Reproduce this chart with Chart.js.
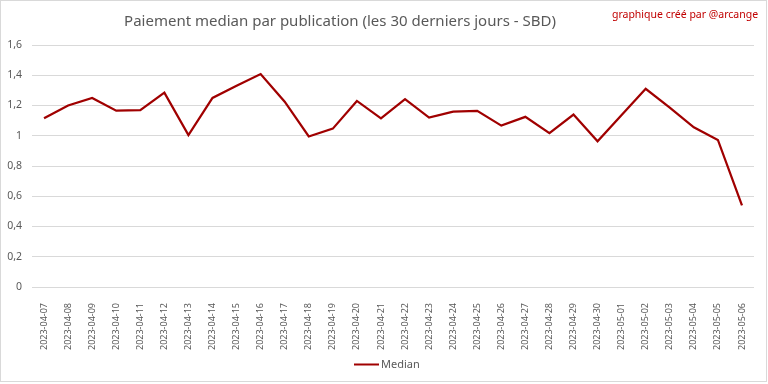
<!DOCTYPE html>
<html>
<head>
<meta charset="utf-8">
<script src="https://cdn.jsdelivr.net/npm/chart.js@4"></script>
<style>
  html, body { margin: 0; padding: 0; background: #fff; }
  #wrap { position: relative; width: 768px; height: 384px; }
</style>
</head>
<body>
<div id="wrap"><canvas id="chart" width="768" height="384"></canvas></div>
<script>
// categories: one per day, last 30 days
const days = [
  '2023-04-07', '2023-04-08', '2023-04-09', '2023-04-10', '2023-04-11',
  '2023-04-12', '2023-04-13', '2023-04-14', '2023-04-15', '2023-04-16',
  '2023-04-17', '2023-04-18', '2023-04-19', '2023-04-20', '2023-04-21',
  '2023-04-22', '2023-04-23', '2023-04-24', '2023-04-25', '2023-04-26',
  '2023-04-27', '2023-04-28', '2023-04-29', '2023-04-30', '2023-05-01',
  '2023-05-02', '2023-05-03', '2023-05-04', '2023-05-05', '2023-05-06'
];

// median payout per post (SBD)
const median = [
  1.115, 1.20, 1.25, 1.166, 1.17,
  1.285, 1.005, 1.25, 1.33, 1.408,
  1.225, 0.995, 1.047, 1.23, 1.115,
  1.242, 1.12, 1.16, 1.165, 1.067,
  1.125, 1.017, 1.14, 0.963, 1.137,
  1.31, 1.186, 1.056, 0.972, 0.54
];

const yTicks = [0, 0.2, 0.4, 0.6, 0.8, 1, 1.2, 1.4, 1.6];

const LINE_COLOR = '#a00000';
const TEXT_COLOR = '#595959';
const GRID_COLOR = '#d9d9d9';
const FONT = "'Noto Sans', sans-serif";

const frame = {
  id: 'frame',
  beforeDraw(chart) {
    const { ctx, width, height } = chart;
    ctx.save();
    ctx.fillStyle = '#fff';
    ctx.fillRect(0, 0, width, height);
    ctx.restore();
  },
  afterDraw(chart) {
    const { ctx, width, height } = chart;
    ctx.save();
    ctx.strokeStyle = GRID_COLOR;
    ctx.lineWidth = 1;
    ctx.strokeRect(0.5, 0.5, width - 2, height - 3);

    // title
    ctx.fillStyle = TEXT_COLOR;
    ctx.font = "15px " + FONT;
    ctx.textAlign = 'center';
    ctx.textBaseline = 'middle';
    ctx.fillText('Paiement median par publication (les 30 derniers jours - SBD)', 340, 22);

    // credit
    ctx.fillStyle = '#c00000';
    ctx.font = "10.5px " + FONT;
    ctx.fillText('graphique créé par @arcange', 685, 15);

    // legend
    const ds = chart.data.datasets[0];
    ctx.strokeStyle = ds.borderColor;
    ctx.lineWidth = 2;
    ctx.beginPath();
    ctx.moveTo(354, 364.5);
    ctx.lineTo(379, 364.5);
    ctx.stroke();
    ctx.fillStyle = TEXT_COLOR;
    ctx.font = "11px " + FONT;
    ctx.textAlign = 'left';
    ctx.fillText(ds.label, 381, 365);
    ctx.restore();
  }
};

new Chart(document.getElementById('chart'), {
  type: 'line',
  data: {
    labels: days,
    datasets: [{
      label: 'Median',
      data: median,
      borderColor: LINE_COLOR,
      borderWidth: 2.25,
      pointRadius: 0,
      tension: 0,
      fill: false
    }]
  },
  options: {
    responsive: false,
    animation: false,
    layout: { padding: { top: 45, left: 0, right: 14, bottom: 0 } },
    plugins: {
      legend: { display: false },
      title: { display: false },
      tooltip: { enabled: false }
    },
    scales: {
      x: {
        offset: true,
        grid: { display: false },
        border: { display: false },
        ticks: {
          color: TEXT_COLOR,
          font: { family: FONT, size: 9 },
          minRotation: 90,
          maxRotation: 90,
          autoSkip: false,
          padding: 8
        },
        afterFit(scale) { scale.height = 97; }
      },
      y: {
        min: 0,
        max: 1.6,
        afterBuildTicks(scale) { scale.ticks = yTicks.map(v => ({ value: v })); },
        grid: { color: GRID_COLOR, drawTicks: false },
        border: { display: false },
        ticks: {
          color: TEXT_COLOR,
          font: { family: FONT, size: 10.5 },
          padding: 10,
          callback: v => String(Math.round(v * 10) / 10).replace('.', ',')
        },
        afterFit(scale) { scale.width = 32; }
      }
    }
  },
  plugins: [frame]
});
</script>
</body>
</html>
